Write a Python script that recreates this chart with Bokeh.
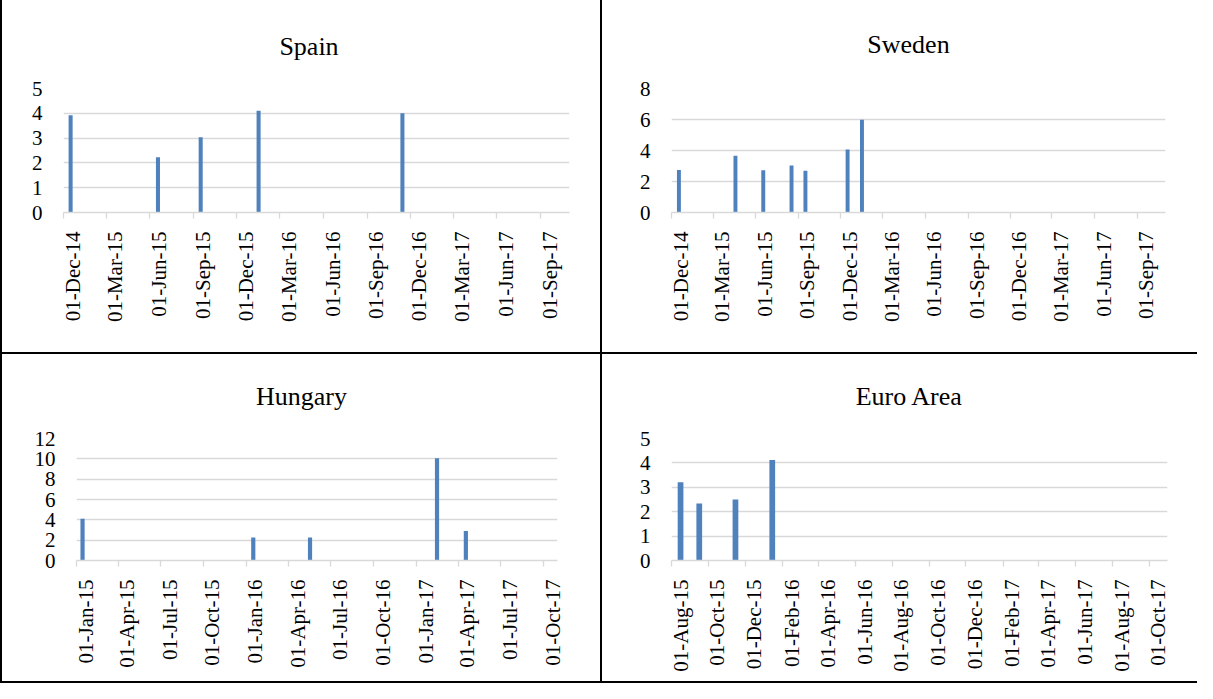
import math
from datetime import datetime, timezone

from bokeh.plotting import figure
from bokeh.models import Range1d, FixedTicker, DatetimeAxis, Spacer
from bokeh.layouts import row, column
from bokeh.embed import file_html
from bokeh.resources import INLINE

# ---------------- data ----------------
spain_dates = ["2014-12-16", "2015-06-18", "2015-09-16", "2016-01-16", "2016-11-14"]
spain_values = [3.92, 2.23, 3.03, 4.10, 4.00]

sweden_dates = ["2014-12-17", "2015-04-18", "2015-06-17", "2015-08-17",
                "2015-09-16", "2015-12-16", "2016-01-16"]
sweden_values = [2.75, 3.66, 2.72, 3.03, 2.70, 4.06, 5.99]

hungary_dates = ["2015-01-14", "2016-01-16", "2016-05-17", "2017-02-14", "2017-04-17"]
hungary_values = [4.10, 2.26, 2.26, 10.05, 2.90]

euro_dates = ["2015-08-16", "2015-09-16", "2015-11-15", "2016-01-15"]
euro_values = [3.21, 2.34, 2.50, 4.12]

quarter_ticks_dec = ["2014-12-01", "2015-03-01", "2015-06-01", "2015-09-01",
                     "2015-12-01", "2016-03-01", "2016-06-01", "2016-09-01",
                     "2016-12-01", "2017-03-01", "2017-06-01", "2017-09-01"]
quarter_labels_dec = ["01-Dec-14", "01-Mar-15", "01-Jun-15", "01-Sep-15",
                      "01-Dec-15", "01-Mar-16", "01-Jun-16", "01-Sep-16",
                      "01-Dec-16", "01-Mar-17", "01-Jun-17", "01-Sep-17"]

quarter_ticks_jan = ["2015-01-01", "2015-04-01", "2015-07-01", "2015-10-01",
                     "2016-01-01", "2016-04-01", "2016-07-01", "2016-10-01",
                     "2017-01-01", "2017-04-01", "2017-07-01", "2017-10-01"]
quarter_labels_jan = ["01-Jan-15", "01-Apr-15", "01-Jul-15", "01-Oct-15",
                      "01-Jan-16", "01-Apr-16", "01-Jul-16", "01-Oct-16",
                      "01-Jan-17", "01-Apr-17", "01-Jul-17", "01-Oct-17"]

bimonth_ticks = ["2015-08-01", "2015-10-01", "2015-12-01", "2016-02-01",
                 "2016-04-01", "2016-06-01", "2016-08-01", "2016-10-01",
                 "2016-12-01", "2017-02-01", "2017-04-01", "2017-06-01",
                 "2017-08-01", "2017-10-01"]
bimonth_labels = ["01-Aug-15", "01-Oct-15", "01-Dec-15", "01-Feb-16",
                  "01-Apr-16", "01-Jun-16", "01-Aug-16", "01-Oct-16",
                  "01-Dec-16", "01-Feb-17", "01-Apr-17", "01-Jun-17",
                  "01-Aug-17", "01-Oct-17"]

spain_y_ticks = [0, 1, 2, 3, 4, 5]
sweden_y_ticks = [0, 2, 4, 6, 8]
hungary_y_ticks = [0, 2, 4, 6, 8, 10, 12]
euro_y_ticks = [0, 1, 2, 3, 4, 5]

# ---------------- style ----------------
FONT = "Liberation Serif"
GRID = "#D9D9D9"
BAR = "#4F81BD"
DAY_MS = 86400000.0
TITLE_PX = 26
# approximate advance widths (em) of Times-metric glyphs, used to centre titles
EM = {"S": .556, "p": .5, "a": .444, "i": .278, "n": .5, "w": .722, "e": .444,
      "d": .5, "H": .722, "u": .5, "g": .5, "r": .333, "y": .5, "E": .611,
      "o": .5, " ": .25, "A": .722}


def ms(s):
    return datetime.strptime(s, "%Y-%m-%d").replace(tzinfo=timezone.utc).timestamp() * 1000.0


def make_chart(title, dates, values, tick_dates, tick_labels, y_ticks, x_start, x_end,
               width, height, fl, fr, ft, fb, title_cx, bar_days):
    xs, xe = ms(x_start), ms(x_end)
    p = figure(width=width, height=height, x_axis_type="datetime",
               x_range=Range1d(xs, xe), y_range=Range1d(0, y_ticks[-1]),
               output_backend="svg", toolbar_location=None,
               min_border_left=fl, min_border_right=width - fr,
               min_border_top=ft, min_border_bottom=height - fb)
    p.outline_line_color = None
    p.background_fill_color = "white"
    p.border_fill_color = "white"

    # title centred on the chart cell, placed near the top of the space above the plot
    tw = sum(EM.get(c, .5) for c in title) * TITLE_PX
    p.title.text = title
    p.title.text_font = FONT
    p.title.text_font_size = f"{TITLE_PX}px"
    p.title.text_font_style = "normal"
    p.title.text_color = "black"
    p.title.align = "left"
    p.title.vertical_align = "top"
    p.title.offset = title_cx - tw / 2 - fl
    p.title.standoff = ft - 32

    tick_ms = [ms(t) for t in tick_dates]

    # main x axis: line + tick marks only
    xa = p.xaxis[0]
    xa.ticker = FixedTicker(ticks=tick_ms)
    xa.axis_line_color = GRID
    xa.axis_line_width = 1.3
    xa.major_tick_line_color = GRID
    xa.major_tick_line_width = 1.3
    xa.major_tick_in = 0
    xa.major_tick_out = 6
    xa.minor_tick_line_color = None
    xa.major_label_text_font_size = "0px"
    xa.major_label_overrides = {t: "" for t in tick_ms}
    xa.major_label_standoff = 0

    # label axis, labels sit just right of their tick (as in the original)
    frame_w = fr - fl
    shift = 9.0 * (xe - xs) / frame_w
    p.extra_x_ranges = {"lbl": Range1d(xs - shift, xe - shift)}
    la = DatetimeAxis(x_range_name="lbl", ticker=FixedTicker(ticks=tick_ms))
    la.major_label_overrides = dict(zip(tick_ms, tick_labels))
    la.major_label_orientation = math.pi / 2
    la.axis_line_color = None
    la.major_tick_line_color = None
    la.minor_tick_line_color = None
    la.major_tick_in = 0
    la.major_tick_out = 0
    la.major_label_standoff = 13
    la.major_label_text_font = FONT
    la.major_label_text_font_size = "21px"
    la.major_label_text_color = "black"
    p.add_layout(la, "below")

    ya = p.yaxis[0]
    ya.ticker = FixedTicker(ticks=y_ticks)
    ya.axis_line_color = None
    ya.major_tick_line_color = None
    ya.minor_tick_line_color = None
    ya.major_tick_in = 0
    ya.major_tick_out = 0
    ya.major_label_standoff = 21
    ya.major_label_text_font = FONT
    ya.major_label_text_font_size = "21px"
    ya.major_label_text_color = "black"

    p.xgrid.visible = False
    p.ygrid.ticker = FixedTicker(ticks=y_ticks)
    p.ygrid.grid_line_color = GRID
    p.ygrid.grid_line_width = 1.3

    p.vbar(x=[ms(d) for d in dates], top=values, width=bar_days * DAY_MS,
           fill_color=BAR, line_color=None)
    return p


LW, RW = 598, 595
TH, BH = 352, 327

p1 = make_chart("Spain", spain_dates, spain_values, quarter_ticks_dec, quarter_labels_dec,
                spain_y_ticks, "2014-12-01", "2017-11-01",
                LW, TH, 61, 567, 84, 215, 306.5, 8.5)
p2 = make_chart("Sweden", sweden_dates, sweden_values, quarter_ticks_dec, quarter_labels_dec,
                sweden_y_ticks, "2014-12-01", "2017-11-01",
                RW, TH, 69, 563, 88, 212, 306, 8.5)
p3 = make_chart("Hungary", hungary_dates, hungary_values, quarter_ticks_jan, quarter_labels_jan,
                hungary_y_ticks, "2015-01-01", "2017-10-31",
                LW, BH, 74, 555, 84, 209, 299, 9.0)
p4 = make_chart("Euro Area", euro_dates, euro_values, bimonth_ticks, bimonth_labels,
                euro_y_ticks, "2015-08-01", "2017-10-31",
                RW, BH, 69, 565, 83, 206, 307, 9.5)


def vline(h):
    return Spacer(width=2, height=h, styles={"background-color": "black"})


def hline(w):
    return Spacer(width=w, height=2, styles={"background-color": "black"})


layout = column(
    row(vline(TH), p1, vline(TH), p2),
    hline(2 + LW + 2 + RW),
    row(vline(BH), p3, vline(BH), p4),
    hline(2 + LW + 2 + RW),
)

open("out.html", "w").write(file_html(layout, INLINE))
